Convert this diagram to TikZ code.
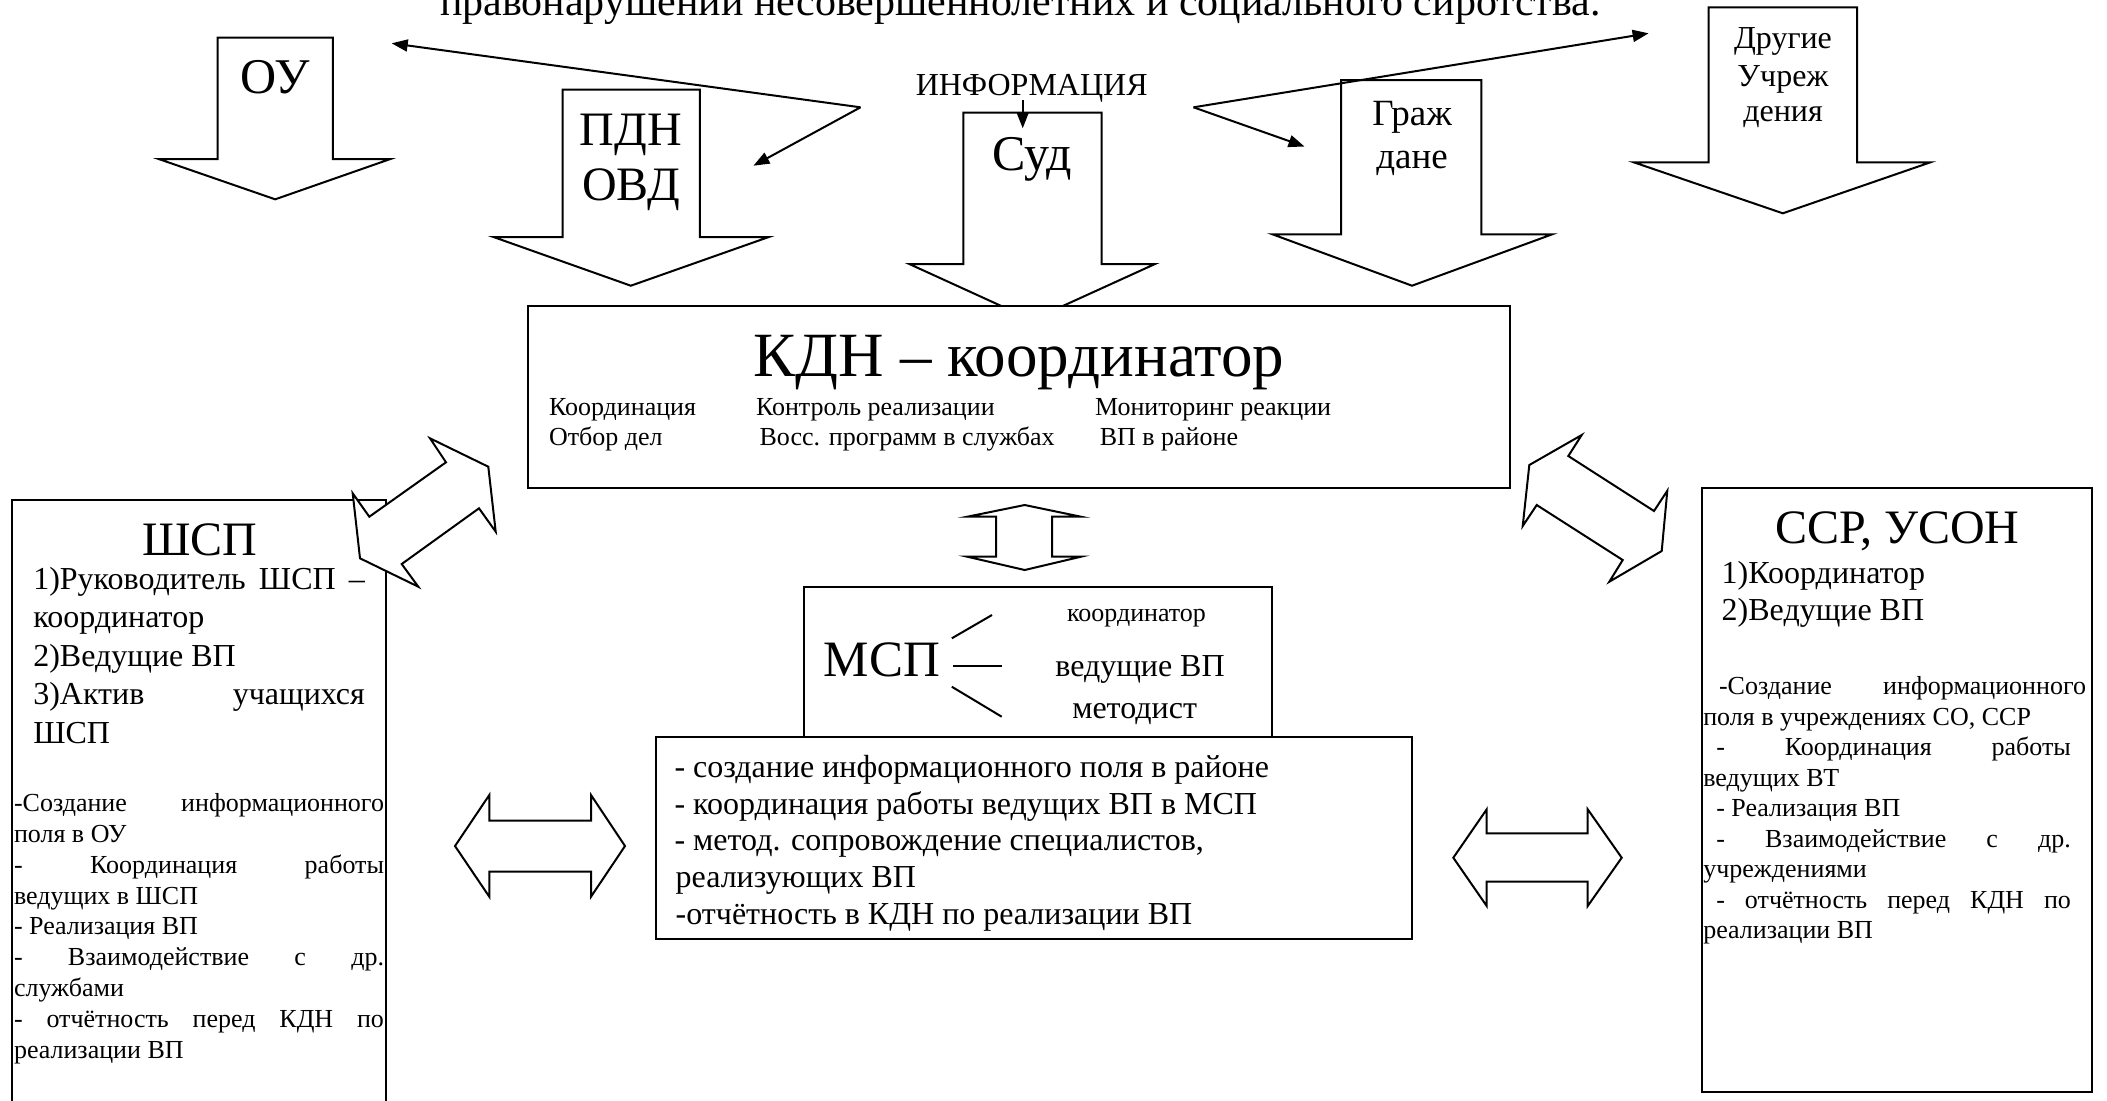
\documentclass[tikz,border=0pt]{standalone}
\usepackage{fontspec}
\setmainfont{Liberation Serif}
\usetikzlibrary{arrows.meta}
\newcommand\fsz[1]{\fontsize{#1}{#1}\selectfont}
\begin{document}
\begin{tikzpicture}[x=0.5pt,y=-0.5pt,
  outl/.style={draw,line width=1pt,fill=white,line join=miter},
  tx/.style={inner sep=0pt,outer sep=0pt,anchor=base},
  txl/.style={inner sep=0pt,outer sep=0pt,anchor=base west},
  conn/.style={line width=1pt,-{Triangle[length=8pt,width=6pt]}},
  plain/.style={line width=1pt}]
\useasboundingbox (0,0) rectangle (2107,1100);
\clip (0,0) rectangle (2107,1100);

% title (cut off at top)
\node[tx,font=\fsz{21}] (title) at (1020.5,15) {правонарушений несовершеннолетних и социального сиротства.};

% big down arrows
\draw[outl] (217.6,37.7) -- (332.8,37.7) -- (332.8,159) -- (390.4,159) -- (275.2,199.3) -- (158.7,159) -- (217.6,159) -- cycle;
\draw[outl] (562.5,89.7) -- (699.8,89.7) -- (699.8,237) -- (768.8,237) -- (630.8,285.7) -- (493.5,237) -- (562.5,237) -- cycle;
\draw[outl] (963.3,112.7) -- (1101.7,112.7) -- (1101.7,264) -- (1155,264) -- (1032,320) -- (909.3,264) -- (963.3,264) -- cycle;
\draw[outl] (1341.2,80) -- (1481.4,80) -- (1481.4,234.3) -- (1552.2,234.3) -- (1412,285.7) -- (1272.5,234.3) -- (1341.2,234.3) -- cycle;
\draw[outl] (1708.6,7.3) -- (1857,7.3) -- (1857,162.3) -- (1930.4,162.3) -- (1782.8,213.3) -- (1633.8,162.3) -- (1708.6,162.3) -- cycle;

\node[tx,font=\fsz{25}] (ou) at (275.2,93) {ОУ};
\node[tx,font=\fsz{24}] (pdn) at (631,145) {ПДН};
\node[tx,font=\fsz{24}] (ovd) at (631,200) {ОВД};
\node[tx,font=\fsz{25}] (sud) at (1032,170) {Суд};
\node[tx,font=\fsz{18.5}] (grazh1) at (1412,125) {Граж};
\node[tx,font=\fsz{18.5}] (grazh2) at (1412,168) {дане};
\node[tx,font=\fsz{16}] (dr1) at (1783,48.3) {Другие};
\node[tx,font=\fsz{16}] (dr2) at (1783,86) {Учреж};
\node[tx,font=\fsz{16}] (dr3) at (1783,121) {дения};

\node[tx,font=\fsz{16}] (info) at (1031.7,95) {ИНФОРМАЦИЯ};

% KDN box
\draw[outl] (528,306) rectangle (1510.2,488.3);
\node[tx,font=\fsz{31.5}] (kdn) at (1019,376.7) {КДН – координатор};
\node[txl,font=\fsz{13}] (k1) at (549,415) {Координация};
\node[txl,font=\fsz{13}] (k2) at (756,415) {Контроль реализации};
\node[txl,font=\fsz{13}] (k3) at (1095,415) {Мониторинг реакции};
\node[txl,font=\fsz{13}] (k4) at (549,445.7) {Отбор дел};
\node[txl,font=\fsz{13}] (k5) at (759.6,445.7) {Восс. программ в службах};
\node[txl,font=\fsz{13}] (k6) at (1099.8,445.7) {ВП в районе};

% SHSP box
\draw[outl] (12.3,500) rectangle (385.7,1120);
\node[tx,font=\fsz{24}] (shsp) at (200,555.7) {ШСП};
\begin{scope}[every node/.style={txl,font=\fsz{16}}]
\node (s1) at (33.3,589) {\makebox[165.8pt][s]{1)Руководитель ШСП –}};
\node (s2) at (33.3,627.5) {координатор};
\node (s3) at (33.3,666) {2)Ведущие ВП};
\node (s4) at (33.3,704.5) {\makebox[165.8pt][s]{3)Актив учащихся}};
\node (s5) at (33.3,743) {ШСП};
\end{scope}
\begin{scope}[every node/.style={txl,font=\fsz{13}}]
\node (l1) at (14,811.6) {\makebox[185pt][s]{-Создание информационного}};
\node (l2) at (14,842.4) {поля в ОУ};
\node (l3) at (14,873.2) {\makebox[185pt][s]{- Координация работы}};
\node (l4) at (14,904) {ведущих в ШСП};
\node (l5) at (14,934.8) {- Реализация ВП};
\node (l6) at (14,965.6) {\makebox[185pt][s]{- Взаимодействие с др.}};
\node (l7) at (14,996.4) {службами};
\node (l8) at (14,1027.2) {\makebox[185pt][s]{- отчётность перед КДН по}};
\node (l9) at (14,1058) {реализации ВП};
\end{scope}

% SSR box
\draw[outl] (1702.3,487.6) rectangle (2092.3,1091.5);
\node[tx,font=\fsz{24}] (ssr) at (1897.3,543) {ССР, УСОН};
\node[txl,font=\fsz{16}] (r1) at (1721.7,583) {1)Координатор};
\node[txl,font=\fsz{16}] (r2) at (1721.7,620) {2)Ведущие ВП};
\begin{scope}[every node/.style={txl,font=\fsz{13}}]
\node (q1) at (1719,694.6) {\makebox[183.5pt][s]{-Создание информационного}};
\node (q2) at (1703.3,725.1) {поля в учреждениях СО, ССР};
\node (q3) at (1716.3,755.6) {\makebox[177.3pt][s]{- Координация работы}};
\node (q4) at (1703.3,786.1) {ведущих ВТ};
\node (q5) at (1716.3,816.6) {- Реализация ВП};
\node (q6) at (1716.3,847.1) {\makebox[177.3pt][s]{- Взаимодействие с др.}};
\node (q7) at (1703.3,877.6) {учреждениями};
\node (q8) at (1716.3,908.1) {\makebox[177.3pt][s]{- отчётность перед КДН по}};
\node (q9) at (1703.3,938.6) {реализации ВП};
\end{scope}

% MSP boxes
\draw[outl] (803.7,587.3) rectangle (1271.5,737.3);
\draw[outl] (655.6,737.3) rectangle (1412.1,939.3);
\node[txl,font=\fsz{25.5}] (msp) at (823.8,676.7) {МСП};
\node[tx,font=\fsz{13}] (m1) at (1136.5,621.7) {координатор};
\node[tx,font=\fsz{16}] (m2) at (1140,676.7) {ведущие ВП};
\node[tx,font=\fsz{16}] (m3) at (1134.6,718.3) {методист};
\coordinate (ma) at (951.8,638.3); \coordinate (mb) at (992,615);
\coordinate (mc) at (953,665.7); \coordinate (md) at (1001.7,665.7);
\coordinate (me) at (951.8,686.7); \coordinate (mf) at (1001.7,716.7);
\draw[plain] (ma) -- (mb);
\draw[plain] (mc) -- (md);
\draw[plain] (me) -- (mf);
\begin{scope}[every node/.style={txl,font=\fsz{16}}]
\node (b1) at (674.5,777.3) {- создание информационного поля в районе};
\node (b2) at (674.5,814) {- координация работы ведущих ВП в МСП};
\node (b3) at (674.5,850.7) {- метод. сопровождение специалистов,};
\node (b4) at (675.7,887.3) {реализующих ВП};
\node (b5) at (675.7,924) {-отчётность в КДН по реализации ВП};
\end{scope}

% double arrows
\draw[outl] (1024.7,505) -- (1080.9,516.7) -- (1052.2,516.7) -- (1052.2,556.7) -- (1080.9,556.7) -- (1024.7,570) -- (967.3,556.7) -- (996,556.7) -- (996,516.7) -- (967.3,516.7) -- cycle;
\draw[outl] (455,846) -- (489.3,795) -- (489.3,820.7) -- (591,820.7) -- (591,795) -- (625,846) -- (591,896.7) -- (591,871.7) -- (489.3,871.7) -- (489.3,896.7) -- cycle;
\draw[outl] (1453.3,857.7) -- (1486.7,809.3) -- (1486.7,833.3) -- (1587.7,833.3) -- (1587.7,809.3) -- (1621.7,857.7) -- (1587.7,906) -- (1587.7,881.7) -- (1486.7,881.7) -- (1486.7,906) -- cycle;
\draw[outl] (430,438.3) -- (488.3,466.7) -- (495.7,531.7) -- (479,508.3) -- (401.7,564) -- (418.3,586.7) -- (360,558.3) -- (352.7,493.3) -- (369.3,516.7) -- (446,462.3) -- cycle;
\draw[outl] (1581.7,435) -- (1568.3,456) -- (1654,511) -- (1667.3,490.7) -- (1661.7,551) -- (1609.3,581.7) -- (1622.7,560) -- (1536.7,505) -- (1522.7,526) -- (1529.3,465) -- cycle;

% information connectors
\coordinate (vL) at (860.5,107.3);
\coordinate (vR) at (1193.5,107.3);
\coordinate (tOU) at (391.7,43.3);
\coordinate (tPDN) at (753.4,165.7);
\coordinate (tGr) at (1304.5,146.5);
\coordinate (tDr) at (1648.6,33.3);
\coordinate (tSud) at (1022.7,128.3);
\coordinate (sInf) at (1022.7,100);
\draw[conn] (vL) -- (tOU);
\draw[conn] (vL) -- (tPDN);
\draw[conn] (vR) -- (tGr);
\draw[conn] (vR) -- (tDr);
\draw[conn] (sInf) -- (tSud);
\end{tikzpicture}
\end{document}
